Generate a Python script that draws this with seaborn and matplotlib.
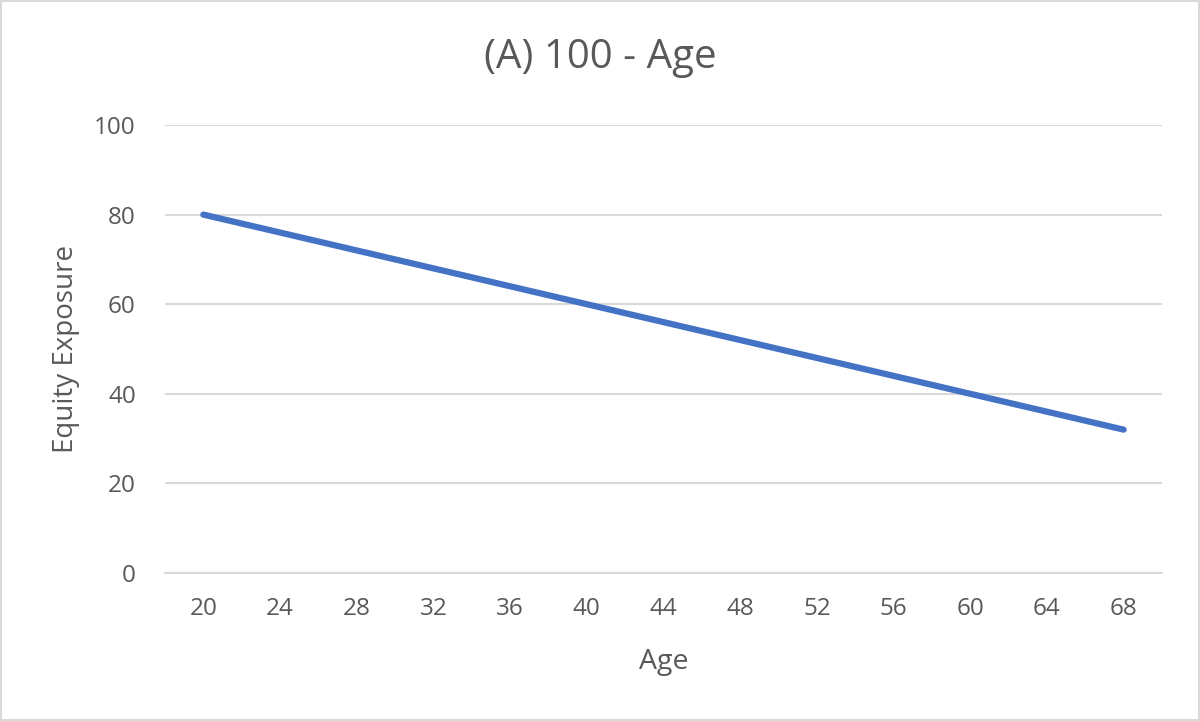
import matplotlib
matplotlib.use("Agg")
import matplotlib.pyplot as plt
import seaborn as sns
import pandas as pd
from matplotlib.patches import Rectangle

# valores
edades = ["20", "24", "28", "32", "36", "40", "44", "48", "52", "56", "60", "64", "68"]
exposicion = [80, 76, 72, 68, 64, 60, 56, 52, 48, 44, 40, 36, 32]
ticks_y = [0, 20, 40, 60, 80, 100]

gris_texto = "#595959"
gris_rejilla = "#d9d9d9"
azul = "#4472C4"

sns.set_theme(style="white")
plt.rcParams["font.family"] = ["Open Sans", "DejaVu Sans"]

datos = pd.DataFrame({"Age": edades, "Equity Exposure": exposicion})

fig = plt.figure(figsize=(12, 7.21), dpi=100)
ax = fig.add_axes([165 / 1200, 1 - 573 / 721, (1162 - 165) / 1200, (573 - 125) / 721])

sns.lineplot(data=datos, x="Age", y="Equity Exposure", color=azul,
             linewidth=4.5, ax=ax, sort=False)
ax.lines[0].set_solid_capstyle("round")

ax.set_xlim(-0.5, len(edades) - 0.5)
ax.set_ylim(0, 100)
ax.set_yticks(ticks_y)
ax.grid(axis="y", color=gris_rejilla, linewidth=1.5)
ax.set_axisbelow(True)
for lado in ["top", "right", "left"]:
    ax.spines[lado].set_visible(False)
ax.spines["bottom"].set_color(gris_rejilla)
ax.spines["bottom"].set_linewidth(1.5)
ax.tick_params(axis="both", length=0, labelsize=17.5, colors=gris_texto)
ax.tick_params(axis="x", pad=17)
ax.tick_params(axis="y", pad=21)

ax.set_xlabel("Age", fontsize=20.5, color=gris_texto, labelpad=20)
ax.set_ylabel("Equity Exposure", fontsize=20, color=gris_texto, labelpad=10)
fig.text(0.5, 1 - 58 / 721, "(A) 100 - Age", fontsize=29, color=gris_texto,
         ha="center", va="center")

fig.patches.append(Rectangle((0.001, 0.001), 0.998, 0.997, transform=fig.transFigure,
                             fill=False, edgecolor=gris_rejilla, linewidth=1.5))

fig.savefig("out.png", dpi=100)
plt.close(fig)
